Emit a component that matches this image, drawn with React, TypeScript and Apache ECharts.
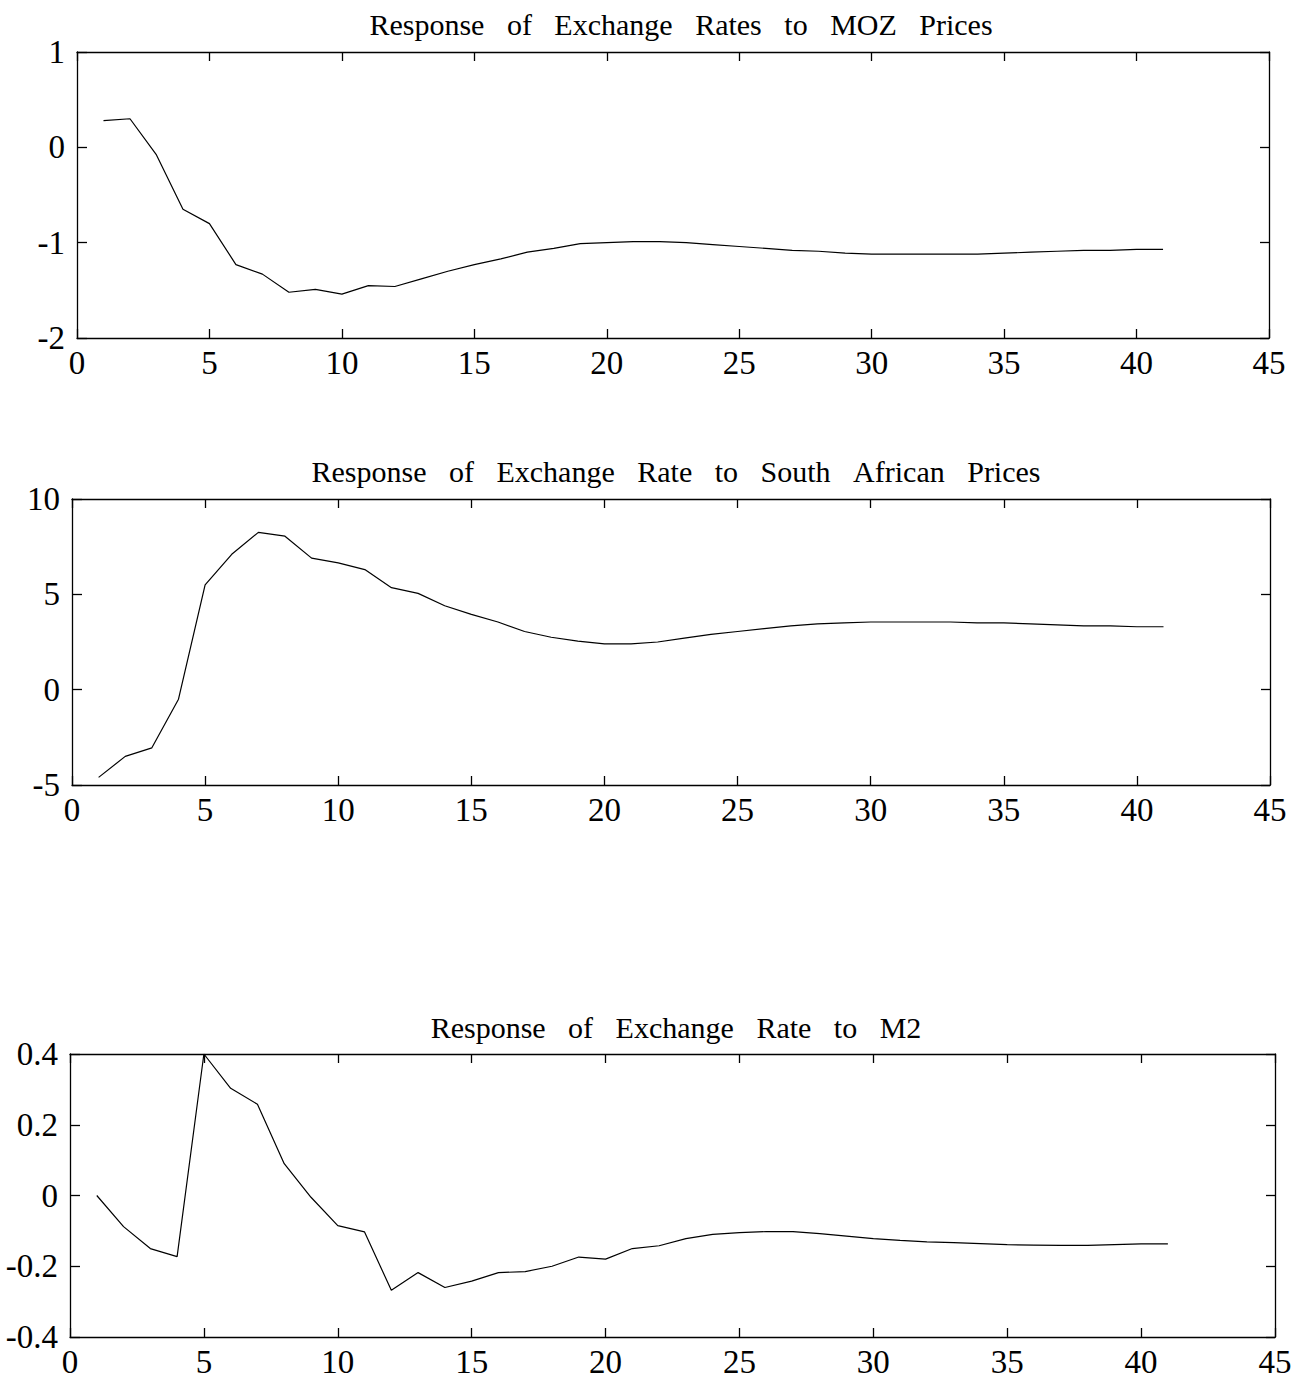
import React, { useEffect, useRef } from "react";
import * as echarts from "echarts";

const periods = Array.from({ length: 41 }, (_, i) => i + 1);

const titles = [
  "Response of Exchange Rates to MOZ Prices",
  "Response of Exchange Rate to South African Prices",
  "Response of Exchange Rate to M2",
];

const mozPrices = [
  0.28, 0.3, -0.08, -0.65, -0.8, -1.23, -1.33, -1.52, -1.49, -1.54,
  -1.45, -1.46, -1.38, -1.3, -1.23, -1.17, -1.1, -1.06, -1.01, -1.0,
  -0.99, -0.99, -1.0, -1.02, -1.04, -1.06, -1.08, -1.09, -1.11, -1.12,
  -1.12, -1.12, -1.12, -1.12, -1.11, -1.1, -1.09, -1.08, -1.08, -1.07,
  -1.07,
];

const saPrices = [
  -4.6, -3.5, -3.05, -0.5, 5.5, 7.1, 8.25, 8.05, 6.9, 6.65,
  6.3, 5.35, 5.05, 4.4, 3.95, 3.55, 3.05, 2.75, 2.55, 2.4,
  2.4, 2.5, 2.7, 2.9, 3.05, 3.2, 3.35, 3.45, 3.5, 3.55,
  3.55, 3.55, 3.55, 3.5, 3.5, 3.45, 3.4, 3.35, 3.35, 3.3,
  3.3,
];

const m2 = [
  0.0, -0.088, -0.15, -0.173, 0.4, 0.303, 0.258, 0.09, -0.005, -0.085,
  -0.103, -0.268, -0.218, -0.26, -0.242, -0.218, -0.215, -0.2, -0.174, -0.18,
  -0.15, -0.142, -0.122, -0.11, -0.105, -0.102, -0.102, -0.108, -0.115, -0.122,
  -0.127, -0.131, -0.133, -0.136, -0.139, -0.14, -0.141, -0.141, -0.139, -0.137,
  -0.137,
];

const yRanges = [
  { min: -2, max: 1, interval: 1 },
  { min: -5, max: 10, interval: 5 },
  { min: -0.4, max: 0.4, interval: 0.2 },
];

const xRange = { min: 0, max: 45, interval: 5 };

const grids = [
  { left: 77, width: 1192, top: 52, height: 286 },
  { left: 72, width: 1198, top: 499, height: 286 },
  { left: 70, width: 1205, top: 1054, height: 284 },
];

const titlePos = [
  { x: 681, y: 24 },
  { x: 676, y: 471 },
  { x: 676, y: 1027 },
];

const FONT = '"Liberation Serif", "Times New Roman", serif';
const GAP = " \u00A0\u00A0";

export default function App() {
  const ref = useRef<HTMLDivElement>(null);

  useEffect(() => {
    if (!ref.current) return;
    const chart = echarts.init(ref.current, undefined, { renderer: "svg" });
    const seriesData = [mozPrices, saPrices, m2];

    const axisLine = { show: true, onZero: false, lineStyle: { color: "#000", width: 1.3 } };
    const tick = (len: number) => ({
      show: true,
      inside: true,
      length: len,
      lineStyle: { color: "#000", width: 1.3 },
    });
    const xAxes: any[] = [];
    const yAxes: any[] = [];
    const series: any[] = [];

    grids.forEach((_, i) => {
      xAxes.push({
        type: "value",
        gridIndex: i,
        position: "bottom",
        ...xRange,
        axisLine,
        axisTick: tick(9),
        axisLabel: { show: true, color: "#000", fontFamily: FONT, fontSize: 33, margin: 8 },
        splitLine: { show: false },
      });
      xAxes.push({
        type: "value",
        gridIndex: i,
        position: "top",
        ...xRange,
        axisLine,
        axisTick: tick(9),
        axisLabel: { show: false },
        splitLine: { show: false },
      });
      yAxes.push({
        type: "value",
        gridIndex: i,
        position: "left",
        ...yRanges[i],
        axisLine,
        axisTick: tick(10),
        axisLabel: { show: true, color: "#000", fontFamily: FONT, fontSize: 33, margin: 12 },
        splitLine: { show: false },
      });
      yAxes.push({
        type: "value",
        gridIndex: i,
        position: "right",
        ...yRanges[i],
        axisLine,
        axisTick: tick(9),
        axisLabel: { show: false },
        splitLine: { show: false },
      });
      series.push({
        type: "line",
        xAxisIndex: i * 2,
        yAxisIndex: i * 2,
        data: periods.map((p, k) => [p, seriesData[i][k]]),
        showSymbol: false,
        symbol: "none",
        lineStyle: { color: "#000", width: 1.2 },
      });
    });

    chart.setOption({
      animation: false,
      backgroundColor: "#fff",
      grid: grids.map((g) => ({ ...g, containLabel: false })),
      xAxis: xAxes,
      yAxis: yAxes,
      series,
      graphic: titles.map((t, i) => ({
        type: "text",
        x: titlePos[i].x,
        y: titlePos[i].y,
        style: {
          text: t.split(" ").join(GAP),
          fill: "#000",
          font: `30px ${FONT}`,
          align: "center",
          verticalAlign: "middle",
        },
      })),
    });

    return () => chart.dispose();
  }, []);

  return (
    <div
      ref={ref}
      style={{ position: "absolute", left: 0, top: 0, width: 1303, height: 1378 }}
    />
  );
}
